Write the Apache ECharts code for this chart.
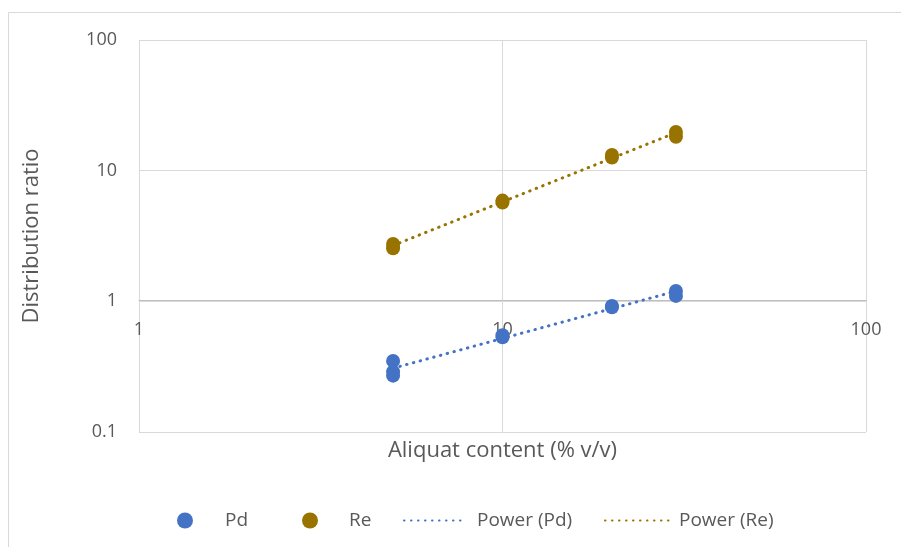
<!DOCTYPE html>
<html>
<head>
<meta charset="utf-8">
<style>
  html, body { margin: 0; padding: 0; background: #ffffff; }
  #chart { width: 901px; height: 547px; }
</style>
<script src="https://cdn.jsdelivr.net/npm/echarts@6/dist/echarts.min.js"></script>
</head>
<body>
<div id="chart"></div>
<script>
// Measured distribution ratios against Aliquat concentration
const pdX = [5, 5, 5, 10, 10, 20, 20, 30, 30];
const pdY = [0.35, 0.29, 0.27, 0.53, 0.55, 0.92, 0.90, 1.2, 1.1];
const reX = [5, 5, 10, 10, 20, 20, 30, 30];
const reY = [2.75, 2.55, 5.7, 5.9, 13.2, 12.6, 19.8, 18.2];

const xTicks = [1, 10, 100];
const yTicks = [0.1, 1, 10, 100];

const PD_COLOR = '#4472C4';
const RE_COLOR = '#997300';
const FONT = '"Open Sans", "Noto Sans", sans-serif';
const TEXT_COLOR = '#595959';
const GRID_COLOR = '#d9d9d9';

// Least-squares power fit y = a * x^b (linear in log-log space)
function powerFit(xs, ys) {
  const lx = xs.map(Math.log), ly = ys.map(Math.log);
  const n = xs.length;
  const mx = lx.reduce((s, v) => s + v, 0) / n;
  const my = ly.reduce((s, v) => s + v, 0) / n;
  let sxy = 0, sxx = 0;
  for (let i = 0; i < n; i++) {
    sxy += (lx[i] - mx) * (ly[i] - my);
    sxx += (lx[i] - mx) * (lx[i] - mx);
  }
  const b = sxy / sxx;
  const a = Math.exp(my - b * mx);
  const x0 = Math.min(...xs), x1 = Math.max(...xs);
  return [[x0, a * Math.pow(x0, b)], [x1, a * Math.pow(x1, b)]];
}

const zip = (xs, ys) => xs.map((x, i) => [x, ys[i]]);

const dotted = (color) => ({
  color: color,
  width: 3,
  type: [0.5, 6.5],
  cap: 'round'
});

const chart = echarts.init(document.getElementById('chart'), null, { renderer: 'canvas' });

const legendText = (pad) => ({
  fontFamily: FONT, fontSize: 19, color: TEXT_COLOR, padding: [0, 0, 0, pad]
});

const legendBase = {
  orient: 'horizontal',
  top: 511,
  padding: 0,
  itemHeight: 16
};

chart.setOption({
  animation: false,
  backgroundColor: '#ffffff',
  grid: { left: 139, right: 35, top: 40, bottom: 115, containLabel: false },
  graphic: [{
    type: 'rect',
    shape: { x: 8.5, y: 12.5, width: 2000, height: 2000 },
    style: { fill: 'none', stroke: GRID_COLOR, lineWidth: 1 },
    silent: true,
    z: -10
  }],
  legend: [
    Object.assign({}, legendBase, {
      left: 177, itemWidth: 16, icon: 'circle',
      data: ['Pd'], textStyle: legendText(27)
    }),
    Object.assign({}, legendBase, {
      left: 302, itemWidth: 16, icon: 'circle',
      data: ['Re'], textStyle: legendText(26)
    }),
    Object.assign({}, legendBase, {
      left: 403, itemWidth: 62,
      data: [{ name: 'Power (Pd)', itemStyle: { opacity: 0 } }],
      textStyle: legendText(6)
    }),
    Object.assign({}, legendBase, {
      left: 604, itemWidth: 64,
      data: [{ name: 'Power (Re)', itemStyle: { opacity: 0 } }],
      textStyle: legendText(5)
    })
  ],
  xAxis: {
    type: 'log',
    logBase: 10,
    min: xTicks[0],
    max: xTicks[xTicks.length - 1],
    position: 'bottom',
    offset: -132,
    name: 'Aliquat content (% v/v)',
    nameLocation: 'middle',
    nameGap: 140,
    nameTextStyle: { fontFamily: FONT, fontSize: 22, color: TEXT_COLOR },
    axisLine: { show: true, lineStyle: { color: '#bfbfbf', width: 1 } },
    axisTick: { show: false },
    minorTick: { show: false },
    axisLabel: {
      margin: 21,
      fontFamily: FONT, fontSize: 18, color: TEXT_COLOR,
      formatter: (v) => String(v)
    },
    splitLine: { show: true, lineStyle: { color: GRID_COLOR, width: 1 } }
  },
  yAxis: {
    type: 'log',
    logBase: 10,
    min: yTicks[0],
    max: yTicks[yTicks.length - 1],
    name: 'Distribution ratio',
    nameLocation: 'middle',
    nameGap: 96,
    nameTextStyle: { fontFamily: FONT, fontSize: 22, color: TEXT_COLOR },
    axisLine: { show: false },
    axisTick: { show: false },
    minorTick: { show: false },
    axisLabel: {
      margin: 22,
      fontFamily: FONT, fontSize: 18, color: TEXT_COLOR,
      formatter: (v) => String(+v.toPrecision(6))
    },
    splitLine: { show: true, lineStyle: { color: GRID_COLOR, width: 1 } }
  },
  series: [
    {
      name: 'Pd', type: 'scatter', symbol: 'circle', symbolSize: 14,
      itemStyle: { color: PD_COLOR, opacity: 1 },
      data: zip(pdX, pdY), z: 3
    },
    {
      name: 'Re', type: 'scatter', symbol: 'circle', symbolSize: 14,
      itemStyle: { color: RE_COLOR, opacity: 1 },
      data: zip(reX, reY), z: 3
    },
    {
      name: 'Power (Pd)', type: 'line', showSymbol: false, symbol: 'none',
      lineStyle: dotted(PD_COLOR), itemStyle: { color: PD_COLOR },
      data: powerFit(pdX, pdY), z: 2
    },
    {
      name: 'Power (Re)', type: 'line', showSymbol: false, symbol: 'none',
      lineStyle: dotted(RE_COLOR), itemStyle: { color: RE_COLOR },
      data: powerFit(reX, reY), z: 2
    }
  ]
});
</script>
</body>
</html>
